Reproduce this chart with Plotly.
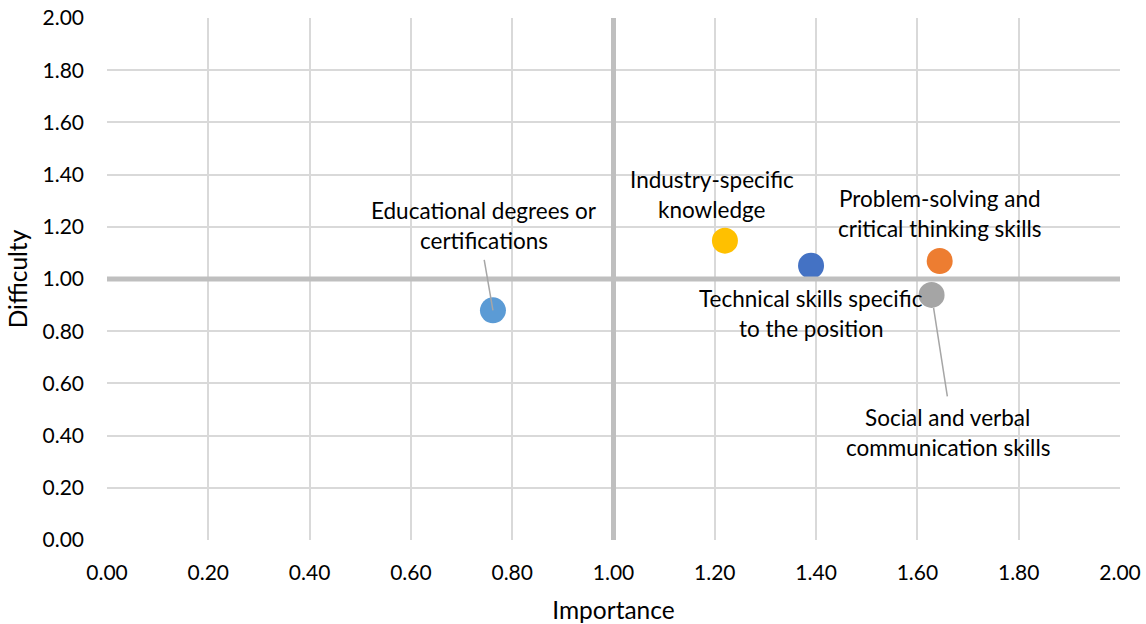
import plotly.graph_objects as go

# skills: importance (x) vs difficulty (y)
skills = [
    "Technical skills specific\nto the position",
    "Problem-solving and\ncritical thinking skills",
    "Social and verbal\ncommunication skills",
    "Industry-specific\nknowledge",
    "Educational degrees or\ncertifications",
]
importance = [1.39, 1.644, 1.628, 1.22, 0.762]
difficulty = [1.051, 1.069, 0.939, 1.147, 0.880]
colors = ["#4472C4", "#ED7D31", "#A5A5A5", "#FFC000", "#5B9BD5"]

# label centres (data units) and leader offsets (px) where Excel drew them
label_x = [1.390, 1.644, 1.660, 1.194, 0.744]
label_y = [0.869, 1.252, 0.413, 1.324, 1.206]
leaders = [None, None, (16, 103, 13), None, (-9, -52, 0)]

tick_vals = [i / 5 for i in range(11)]
FONT = "Lato, 'Open Sans', sans-serif"

fig = go.Figure()
for name, x, y, c in zip(skills, importance, difficulty, colors):
    fig.add_trace(go.Scatter(
        x=[x], y=[y], mode="markers", name=name.replace("\n", " "),
        marker=dict(size=26, color=c, line=dict(width=0)),
        showlegend=False,
    ))

annotations = []
for name, lx, ly, x, y, ld in zip(skills, label_x, label_y, importance, difficulty, leaders):
    if ld:
        ax, ay, stand = ld
        annotations.append(dict(
            x=x, y=y, xref="x", yref="y", text="", showarrow=True,
            ax=ax, ay=ay, arrowhead=0, arrowwidth=1.5, arrowcolor="#A6A6A6",
            standoff=stand,
        ))
    lines = name.split("\n")
    n = len(lines)
    for i, line in enumerate(lines):
        annotations.append(dict(
            x=lx, y=ly, xref="x", yref="y", text=line, showarrow=False,
            yshift=(n - 1) / 2 * 30 - i * 30,
            font=dict(size=22.5, color="#000000", family=FONT),
        ))

fig.update_layout(
    width=1146, height=624,
    margin=dict(l=107, r=26, t=18, b=84),
    plot_bgcolor="white", paper_bgcolor="white",
    font=dict(family=FONT, size=21, color="#000000"),
    annotations=annotations,
    shapes=[
        dict(type="line", xref="x", yref="y domain", x0=1, x1=1, y0=0, y1=1,
             line=dict(color="#BFBFBF", width=5), layer="above"),
        dict(type="line", xref="x domain", yref="y", x0=0, x1=1, y0=1, y1=1,
             line=dict(color="#BFBFBF", width=5), layer="above"),
    ],
)
fig.update_xaxes(
    range=[0, 2], tickvals=tick_vals, tickformat=".2f", automargin=False,
    showgrid=True, gridcolor="#D9D9D9", gridwidth=1.5,
    zeroline=False, showline=False, ticks="", ticklabelstandoff=18,
    ticklabeloverflow="allow",
    title=dict(text="Importance", standoff=18, font=dict(size=24.5)),
)
fig.update_yaxes(
    range=[0, 2], tickvals=tick_vals, tickformat=".2f", automargin=False,
    showgrid=True, gridcolor="#D9D9D9", gridwidth=1.5,
    zeroline=False, showline=False, ticks="", ticklabelstandoff=22,
    ticklabeloverflow="allow",
    title=dict(text="Difficulty", standoff=7, font=dict(size=24.5)),
)

# drop the default 8px page margin so the figure fills the window exactly
fig.write_html("out.html", config={"displayModeBar": False},
               post_script="document.body.style.margin='0';")
